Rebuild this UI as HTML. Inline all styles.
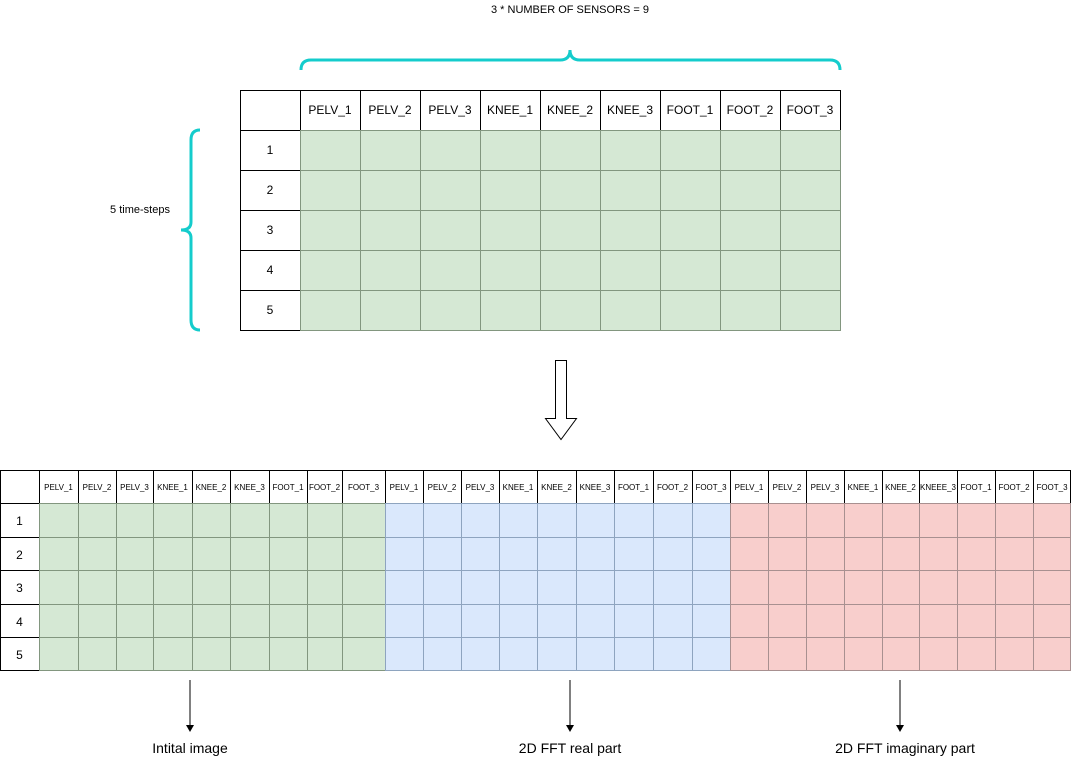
<!DOCTYPE html>
<html><head><meta charset="utf-8"><style>
body{margin:0;width:1071px;height:761px;background:#fff;overflow:hidden}
svg{display:block;font-family:"Liberation Sans",Arial,sans-serif}
</style></head><body>
<svg id="s" width="1071" height="761" xmlns="http://www.w3.org/2000/svg">
<text x="570" y="13" font-size="11" text-anchor="middle">3 * NUMBER OF SENSORS = 9</text>
<path d="M301,70 Q301,60 311,60 L560,60 Q570,60 570,50 Q570,60 580,60 L830,60 Q840,60 840,70" fill="none" stroke="#14CCCC" stroke-width="3"/>
<path d="M200,130 Q191,130 191,140 L191,222 Q191,230 181,230 Q191,230 191,238 L191,320 Q191,330 200,330" fill="none" stroke="#14CCCC" stroke-width="3"/>
<text x="140" y="213" font-size="11" text-anchor="middle">5 time-steps</text>
<g id="gtop"></g>
<g id="gbot"></g>
<path d="M555.5,360.5 h11 v58 h10 l-15.5,21 l-15.5,-21 h10 z" fill="#fff" stroke="#000" stroke-width="1"/>
<g stroke="#000" stroke-width="1">
<line x1="190" y1="680" x2="190" y2="726"/><line x1="570" y1="680" x2="570" y2="726"/><line x1="900" y1="680" x2="900" y2="726"/>
</g>
<g fill="#000"><path d="M186,725 l4,7 l4,-7z"/><path d="M566,725 l4,7 l4,-7z"/><path d="M896,725 l4,7 l4,-7z"/></g>
<g font-size="14" text-anchor="middle">
<text x="190" y="753">Intital image</text><text x="570" y="753">2D FFT real part</text><text x="905" y="753">2D FFT imaginary part</text>
</g>
</svg>
<script>
(function(){
var NS="http://www.w3.org/2000/svg";
function el(p,t,a,txt){var e=document.createElementNS(NS,t);for(var k in a)e.setAttribute(k,a[k]);if(txt!=null)e.textContent=txt;p.appendChild(e);return e;}
var names=["PELV_1","PELV_2","PELV_3","KNEE_1","KNEE_2","KNEE_3","FOOT_1","FOOT_2","FOOT_3"];
var gt=document.getElementById("gtop");
for(var r=0;r<6;r++){for(var c=0;c<10;c++){
 var x=c==0?240:300+(c-1)*60,w=60,y=90+r*40;
 var data=r>0&&c>0;
 el(gt,"rect",{x:x+.5,y:y+.5,width:w,height:40,fill:data?"#d5e8d4":"#fff",stroke:data?"#82967f":"#000"});
 var t=r==0?(c==0?"":names[c-1]):(c==0?String(r):"");
 if(t)el(gt,"text",{x:x+w/2,y:y+24,"font-size":12,"text-anchor":"middle"},t);
}}
var bx=[0,39,78,116,153,192,230,269,307,342,385,423,461,499,537,576,614,653,692,730,768,806,844,882,919,957,995,1033,1071];
var by=[470,503,537,570,604,637,670];
var bn=names.concat(names).concat(["PELV_1","PELV_2","PELV_3","KNEE_1","KNEE_2","KNEEE_3","FOOT_1","FOOT_2","FOOT_3"]);
var gb=document.getElementById("gbot");
var fills=["#d5e8d4","#dae8fc","#f8cecc"],strokes=["#82967f","#8ea4bf","#a89090"];
for(var r=0;r<6;r++){for(var c=0;c<28;c++){
 var x=bx[c],w=bx[c+1]-x,y=by[r],h=by[r+1]-y;
 var data=r>0&&c>0,g=Math.floor((c-1)/9);
 el(gb,"rect",{x:x+.5,y:y+.5,width:w-(c==27?1:0),height:h,fill:data?fills[g]:"#fff",stroke:data?strokes[g]:"#000"});
 var t=r==0?(c==0?"":bn[c-1]):(c==0?String(r):"");
 if(t)el(gb,"text",{x:x+w/2,y:y+(r==0?20:22),"font-size":r==0?8:12,"text-anchor":"middle"},t);
}}
})();
</script>
</body></html>
